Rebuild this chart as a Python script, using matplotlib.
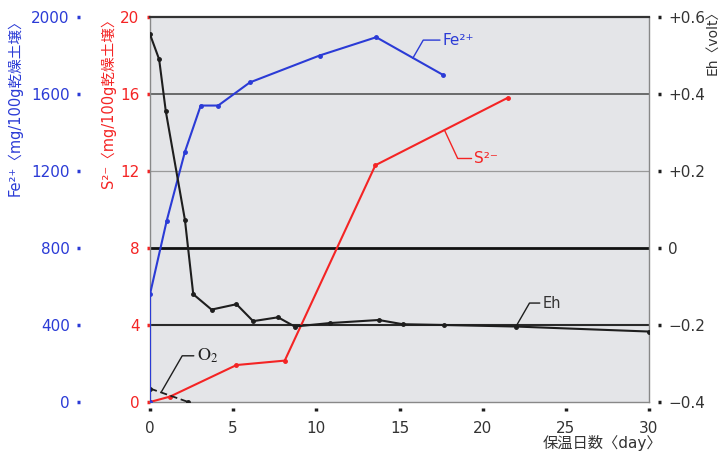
import matplotlib
matplotlib.use("Agg")
import matplotlib.pyplot as plt

plt.rcParams['font.family'] = ['DejaVu Sans', 'Noto Sans CJK JP']
plt.rcParams['mathtext.fontset'] = 'stix'

# ---- data ----
fe_days = [0, 0, 1.0, 2.1, 3.05, 4.1, 6.0, 10.2, 13.6, 17.6]
fe_vals = [0, 560, 940, 1300, 1540, 1540, 1660, 1800, 1895, 1700]

s_days = [0, 1.2, 5.2, 8.1, 13.55, 21.5]
s_vals = [0, 0.28, 1.92, 2.15, 12.3, 15.8]

eh_days = [0, 0.55, 0.95, 2.1, 2.6, 3.7, 5.2, 6.2, 7.7, 8.7, 10.8, 13.75, 15.2, 17.7, 22, 30]
eh_vals = [0.555, 0.49, 0.355, 0.073, -0.12, -0.16, -0.146, -0.19, -0.18, -0.204,
           -0.195, -0.187, -0.198, -0.2, -0.204, -0.217]

o2_days = [0, 2.3]
o2_vals = [0.7, 0]

x_ticks = [0, 5, 10, 15, 20, 25, 30]
s_ticks = [0, 4, 8, 12, 16, 20]
fe_ticks = [0, 400, 800, 1200, 1600, 2000]
eh_ticks = [-0.4, -0.2, 0, 0.2, 0.4, 0.6]
eh_ticklabels = ['\u22120.4', '\u22120.2', '0', '+0.2', '+0.4', '+0.6']

BLUE = '#2b3bd6'
RED = '#f42424'
BLACK = '#1e1e1e'

fig = plt.figure(figsize=(7.26, 4.55), dpi=100)
ax = fig.add_axes([150 / 726, 1 - 402 / 455, 499 / 726, 385 / 455])
ax.set_facecolor('#e4e5e8')
ax.set_xlim(0, 30)
ax.set_ylim(0, 20)

# grid lines (horizontal)
grid_styles = {4: ('#2a2a2a', 1.5), 8: ('#111111', 2.0), 12: ('#9a9a9a', 0.9), 16: ('#555555', 1.2)}
for v in s_ticks:
    if v in grid_styles:
        c, lw = grid_styles[v]
        ax.axhline(v, color=c, lw=lw, zorder=1)

for sp in ['left', 'bottom', 'right']:
    ax.spines[sp].set_color('#888888')
    ax.spines[sp].set_linewidth(1.0)
ax.spines['top'].set_color('#333333')
ax.spines['top'].set_linewidth(1.6)

ax.set_yticks(s_ticks)
ax.set_yticklabels([str(v) for v in s_ticks])
ax.tick_params(axis='y', direction='out', length=2.5, width=2.5, color=RED,
               labelcolor=RED, labelsize=11, pad=5)
ax.set_xticks(x_ticks)
ax.tick_params(axis='x', length=0, labelbottom=False)

secx = ax.secondary_xaxis(-0.016)
secx.set_xticks(x_ticks)
secx.set_xticklabels([str(v) for v in x_ticks])
secx.spines['bottom'].set_linewidth(0)
secx.tick_params(axis='x', direction='out', length=2.5, width=2.5, color=BLACK,
                 labelcolor='#333333', labelsize=11, pad=7)

# S2- and O2 on main axis
ax.plot(s_days, s_vals, color=RED, lw=1.5, marker='o', ms=2.5, zorder=5)
ax.plot(o2_days, o2_vals, color=BLACK, lw=1.3, ls=(0, (4, 2)), marker='o', ms=2.5, zorder=5)

# Fe2+ axis
ax_fe = ax.twinx()
ax_fe.set_ylim(0, 2000)
ax_fe.yaxis.set_ticks_position('left')
ax_fe.spines['left'].set_position(('axes', -0.14))
ax_fe.spines['left'].set_linewidth(0)
for sp in ['right', 'top', 'bottom']:
    ax_fe.spines[sp].set_visible(False)
ax_fe.set_yticks(fe_ticks)
ax_fe.set_yticklabels([str(v) for v in fe_ticks])
ax_fe.tick_params(axis='y', direction='out', length=2.5, width=2.5, color=BLUE,
                  labelcolor=BLUE, labelsize=11, pad=5, right=False, labelright=False,
                  left=True, labelleft=True)
ax_fe.plot(fe_days, fe_vals, color=BLUE, lw=1.5, marker='o', ms=2.5, zorder=5)

# Eh axis
ax_eh = ax.twinx()
ax_eh.set_ylim(-0.4, 0.6)
ax_eh.spines['right'].set_position(('axes', 1.018))
ax_eh.spines['right'].set_linewidth(0)
for sp in ['left', 'top', 'bottom']:
    ax_eh.spines[sp].set_visible(False)
ax_eh.set_yticks(eh_ticks)
ax_eh.set_yticklabels(eh_ticklabels)
ax_eh.tick_params(axis='y', direction='out', length=2.5, width=2.5, color=BLACK,
                  labelcolor='#333333', labelsize=11, pad=5)
ax_eh.plot(eh_days, eh_vals, color=BLACK, lw=1.5, marker='o', ms=2.5, zorder=5)

# annotations with leader lines
ap = dict(arrowstyle='-', lw=1.0, shrinkA=0, shrinkB=0)
ax_fe.annotate('Fe\u00b2\u207a', xy=(15.8, 1786), xytext=(17.6, 1880), color=BLUE,
               fontsize=11, va='center', ha='left',
               arrowprops=dict(ap, color=BLUE, connectionstyle='angle,angleA=0,angleB=60'))
ax.annotate('S\u00b2\u207b', xy=(17.7, 14.13), xytext=(19.5, 12.65), color=RED,
            fontsize=11, va='center', ha='left',
            arrowprops=dict(ap, color=RED, connectionstyle='angle,angleA=0,angleB=-65'))
ax_eh.annotate('Eh', xy=(22, -0.204), xytext=(23.6, -0.143), color='#333333',
               fontsize=10.5, va='center', ha='left',
               arrowprops=dict(ap, color=BLACK, connectionstyle='angle,angleA=0,angleB=60'))
ax.annotate(r'$\mathrm{O_2}$', xy=(0.7, 0.55), xytext=(2.8, 2.4), color=BLACK,
            fontsize=13, va='center', ha='left',
            arrowprops=dict(ap, color=BLACK, connectionstyle='angle,angleA=0,angleB=60'))

# axis titles
fig.text(15 / 726, 1 - 12 / 455, 'Fe\u00b2\u207a\u3008mg/100g乾燥土壌\u3009', rotation=90,
         color=BLUE, fontsize=10.5, ha='center', va='top')
fig.text(108 / 726, 1 - 12 / 455, 'S\u00b2\u207b\u3008mg/100g乾燥土壌\u3009', rotation=90,
         color=RED, fontsize=10.5, ha='center', va='top')
fig.text(712 / 726, 1 - 4 / 455, 'Eh\u3008volt\u3009', rotation=90,
         color='#333333', fontsize=10, ha='center', va='top')
fig.text(602 / 726, 1 - 443 / 455, '保温日数\u3008day\u3009', color='#333333',
         fontsize=11, ha='center', va='center')

fig.savefig('out.png', dpi=100)
